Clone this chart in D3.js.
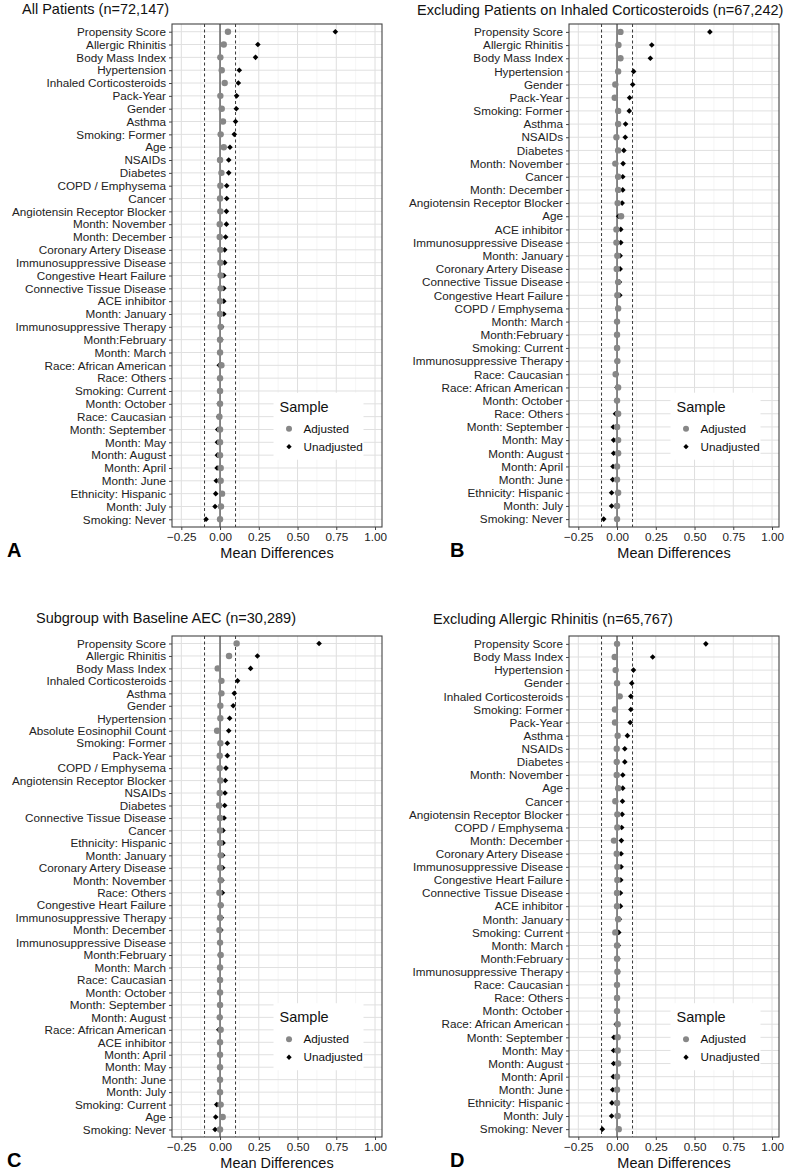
<!DOCTYPE html>
<html>
<head>
<meta charset="utf-8">
<script src="https://cdn.jsdelivr.net/npm/d3@7"></script>
<style>
  body { margin: 0; background: #fff; }
  svg text { font-family: "Liberation Sans", Arial, sans-serif; }
</style>
</head>
<body>
<script>
// panel A: all patients
const catsA = ["Propensity Score", "Allergic Rhinitis", "Body Mass Index", "Hypertension", "Inhaled Corticosteroids",
  "Pack-Year", "Gender", "Asthma", "Smoking: Former", "Age", "NSAIDs", "Diabetes", "COPD / Emphysema", "Cancer",
  "Angiotensin Receptor Blocker", "Month: November", "Month: December", "Coronary Artery Disease",
  "Immunosuppressive Disease", "Congestive Heart Failure", "Connective Tissue Disease", "ACE inhibitor",
  "Month: January", "Immunosuppressive Therapy", "Month:February", "Month: March", "Race: African American",
  "Race: Others", "Smoking: Current", "Month: October", "Race: Caucasian", "Month: September", "Month: May",
  "Month: August", "Month: April", "Month: June", "Ethnicity: Hispanic", "Month: July", "Smoking: Never"];
const adjA = [0.051, 0.024, 0.002, 0.011, 0.030, 0.002, 0.011, 0.019, 0.004, 0.024, 0.000, 0.009, 0.002, 0.000,
  0.002, -0.002, -0.002, 0.002, 0.002, 0.004, 0.004, 0.000, 0.000, 0.004, 0.000, 0.000, 0.009, 0.000, 0.000,
  0.000, -0.004, 0.000, 0.000, 0.000, 0.004, 0.004, 0.013, 0.006, 0.000];
const unadjA = [0.744, 0.244, 0.229, 0.124, 0.118, 0.107, 0.105, 0.100, 0.092, 0.064, 0.056, 0.056, 0.043, 0.043,
  0.041, 0.041, 0.036, 0.030, 0.030, 0.024, 0.024, 0.024, 0.024, 0.010, 0.005, 0.000, -0.005, 0.000, -0.003,
  -0.005, -0.008, -0.015, -0.017, -0.017, -0.019, -0.024, -0.028, -0.032, -0.090];

// panel B: excluding patients on inhaled corticosteroids
const catsB = ["Propensity Score", "Allergic Rhinitis", "Body Mass Index", "Hypertension", "Gender", "Pack-Year",
  "Smoking: Former", "Asthma", "NSAIDs", "Diabetes", "Month: November", "Cancer", "Month: December",
  "Angiotensin Receptor Blocker", "Age", "ACE inhibitor", "Immunosuppressive Disease", "Month: January",
  "Coronary Artery Disease", "Connective Tissue Disease", "Congestive Heart Failure", "COPD / Emphysema",
  "Month: March", "Month:February", "Smoking: Current", "Immunosuppressive Therapy", "Race: Caucasian",
  "Race: African American", "Month: October", "Race: Others", "Month: September", "Month: May", "Month: August",
  "Month: April", "Month: June", "Ethnicity: Hispanic", "Month: July", "Smoking: Never"];
const adjB = [0.022, 0.009, 0.022, 0.007, -0.011, -0.015, 0.007, 0.007, -0.004, 0.007, -0.011, 0.007, 0.007,
  0.004, 0.026, -0.004, -0.004, 0.002, -0.002, 0.007, 0.002, 0.007, 0.000, 0.000, 0.000, 0.002, -0.009, 0.007,
  0.000, 0.007, 0.000, 0.007, 0.007, 0.000, 0.000, 0.007, 0.000, 0.000];
const unadjB = [0.599, 0.224, 0.215, 0.107, 0.101, 0.081, 0.079, 0.055, 0.053, 0.044, 0.039, 0.037, 0.037,
  0.033, 0.010, 0.024, 0.024, 0.020, 0.020, 0.015, 0.018, 0.005, 0.000, 0.000, 0.000, 0.000, -0.005, 0.000,
  -0.003, -0.010, -0.024, -0.022, -0.022, -0.026, -0.028, -0.035, -0.035, -0.086];

// panel C: subgroup with baseline AEC
const catsC = ["Propensity Score", "Allergic Rhinitis", "Body Mass Index", "Inhaled Corticosteroids", "Asthma",
  "Gender", "Hypertension", "Absolute Eosinophil Count", "Smoking: Former", "Pack-Year", "COPD / Emphysema",
  "Angiotensin Receptor Blocker", "NSAIDs", "Diabetes", "Connective Tissue Disease", "Cancer",
  "Ethnicity: Hispanic", "Month: January", "Coronary Artery Disease", "Month: November", "Race: Others",
  "Congestive Heart Failure", "Immunosuppressive Therapy", "Month: December", "Immunosuppressive Disease",
  "Month:February", "Month: March", "Race: Caucasian", "Month: October", "Month: September", "Month: August",
  "Race: African American", "ACE inhibitor", "Month: April", "Month: May", "Month: June", "Month: July",
  "Smoking: Current", "Age", "Smoking: Never"];
const adjC = [0.107, 0.058, -0.015, 0.009, 0.009, 0.002, 0.002, -0.019, 0.002, -0.002, -0.002, 0.002, -0.002,
  -0.006, 0.000, 0.000, 0.000, 0.004, 0.000, 0.004, -0.004, 0.004, 0.000, -0.004, 0.000, 0.004, 0.000, 0.000,
  0.000, 0.000, -0.002, 0.004, 0.000, 0.000, 0.000, 0.000, 0.000, 0.004, 0.017, 0.000];
const unadjC = [0.639, 0.241, 0.197, 0.113, 0.092, 0.085, 0.062, 0.056, 0.047, 0.047, 0.038, 0.034, 0.032,
  0.030, 0.026, 0.019, 0.019, 0.017, 0.017, 0.012, 0.015, 0.008, 0.008, 0.005, 0.000, 0.000, 0.000, 0.000,
  0.000, 0.000, 0.000, -0.008, 0.000, 0.000, 0.000, 0.000, 0.000, -0.021, -0.028, -0.032];

// panel D: excluding allergic rhinitis
const catsD = ["Propensity Score", "Body Mass Index", "Hypertension", "Gender", "Inhaled Corticosteroids",
  "Smoking: Former", "Pack-Year", "Asthma", "NSAIDs", "Diabetes", "Month: November", "Age", "Cancer",
  "Angiotensin Receptor Blocker", "COPD / Emphysema", "Month: December", "Coronary Artery Disease",
  "Immunosuppressive Disease", "Congestive Heart Failure", "Connective Tissue Disease", "ACE inhibitor",
  "Month: January", "Smoking: Current", "Month: March", "Month:February", "Immunosuppressive Therapy",
  "Race: Caucasian", "Race: Others", "Month: October", "Race: African American", "Month: September",
  "Month: May", "Month: August", "Month: April", "Month: June", "Ethnicity: Hispanic", "Month: July",
  "Smoking: Never"];
const adjD = [0.000, -0.015, -0.009, 0.000, 0.017, -0.013, -0.013, 0.004, -0.002, -0.002, -0.002, 0.007, -0.011,
  0.002, 0.002, -0.020, -0.002, 0.002, 0.002, 0.000, 0.000, 0.007, -0.011, 0.000, 0.000, 0.002, 0.000, 0.000,
  0.000, 0.004, 0.004, 0.004, 0.007, 0.000, 0.000, 0.000, 0.004, 0.011];
const unadjD = [0.573, 0.230, 0.106, 0.095, 0.089, 0.089, 0.085, 0.067, 0.050, 0.050, 0.037, 0.037, 0.035,
  0.033, 0.030, 0.028, 0.026, 0.026, 0.024, 0.022, 0.022, 0.015, 0.011, 0.008, 0.005, 0.005, 0.000, 0.000,
  -0.003, -0.005, -0.020, -0.022, -0.022, -0.024, -0.028, -0.033, -0.035, -0.095];

const xTicks = [-0.25, 0, 0.25, 0.5, 0.75, 1];
const xMinor = [-0.125, 0.125, 0.375, 0.625, 0.875];
const refLines = [-0.1, 0.1];

const panels = [
  {title: "All Patients (n=72,147)", letter: "A", cats: catsA, adj: adjA, unadj: unadjA,
   x0: 172, x1: 382, y0: 24, y1: 527, tx: 22, ty: 14, lx: 7},
  {title: "Excluding Patients on Inhaled Corticosteroids (n=67,242)", letter: "B", cats: catsB, adj: adjB, unadj: unadjB,
   x0: 569, x1: 779, y0: 24, y1: 527, tx: 417, ty: 15, lx: 450},
  {title: "Subgroup with Baseline AEC (n=30,289)", letter: "C", cats: catsC, adj: adjC, unadj: unadjC,
   x0: 172, x1: 382, y0: 636, y1: 1137, tx: 36, ty: 623, lx: 7},
  {title: "Excluding Allergic Rhinitis (n=65,767)", letter: "D", cats: catsD, adj: adjD, unadj: unadjD,
   x0: 569, x1: 779, y0: 636, y1: 1137, tx: 433, ty: 624, lx: 450}
];

const svg = d3.select("body").append("svg")
  .attr("width", 790)
  .attr("height", 1174);

const diamond = d3.symbol().type(d3.symbolDiamond2).size(20);
const diamondKey = d3.symbol().type(d3.symbolDiamond2).size(18);

panels.forEach(p => {
  const g = svg.append("g");
  const x = d3.scaleLinear().domain([-0.31, 1.045]).range([p.x0, p.x1]);
  const y = d3.scalePoint().domain(p.cats).range([p.y0, p.y1]).padding(0.6);

  // grid
  g.selectAll(".minor").data(xMinor).enter().append("line")
    .attr("x1", d => x(d)).attr("x2", d => x(d))
    .attr("y1", p.y0).attr("y2", p.y1)
    .attr("stroke", "#eeeeee").attr("stroke-width", 0.6);
  g.selectAll(".major").data(xTicks).enter().append("line")
    .attr("x1", d => x(d)).attr("x2", d => x(d))
    .attr("y1", p.y0).attr("y2", p.y1)
    .attr("stroke", "#dedede").attr("stroke-width", 1);
  g.selectAll(".hgrid").data(p.cats).enter().append("line")
    .attr("x1", p.x0).attr("x2", p.x1)
    .attr("y1", d => y(d)).attr("y2", d => y(d))
    .attr("stroke", "#e0e0e0").attr("stroke-width", 1);

  // reference lines
  g.append("line")
    .attr("x1", x(0)).attr("x2", x(0)).attr("y1", p.y0).attr("y2", p.y1)
    .attr("stroke", "#6e6e6e").attr("stroke-width", 1.6);
  g.selectAll(".ref").data(refLines).enter().append("line")
    .attr("x1", d => x(d)).attr("x2", d => x(d))
    .attr("y1", p.y0).attr("y2", p.y1)
    .attr("stroke", "#222").attr("stroke-width", 0.9)
    .attr("stroke-dasharray", "3,2.5");

  // points: unadjusted under adjusted
  g.selectAll(".un").data(p.unadj).enter().append("path")
    .attr("d", diamond)
    .attr("transform", (d, i) => `translate(${x(d)},${y(p.cats[i])})`)
    .attr("fill", "#000");
  g.selectAll(".ad").data(p.adj).enter().append("circle")
    .attr("cx", d => x(d))
    .attr("cy", (d, i) => y(p.cats[i]))
    .attr("r", 3.2)
    .attr("fill", "#878787");

  // legend
  const lgX = x(0.345), lgY = p.y0 + (p.y1 - p.y0) * 0.733;
  const lg = g.append("g").attr("transform", `translate(${lgX},${lgY})`);
  lg.append("rect").attr("x", 0).attr("y", 0).attr("width", 90).attr("height", 67).attr("fill", "#fff");
  lg.append("text").attr("x", 6).attr("y", 19).attr("font-size", 14.5).attr("fill", "#111").text("Sample");
  lg.append("circle").attr("cx", 15.5).attr("cy", 36).attr("r", 3).attr("fill", "#878787");
  lg.append("path").attr("d", diamondKey).attr("transform", "translate(15.5,54)").attr("fill", "#000");
  lg.append("text").attr("x", 30).attr("y", 40).attr("font-size", 11.7).attr("fill", "#111").text("Adjusted");
  lg.append("text").attr("x", 30).attr("y", 58).attr("font-size", 11.7).attr("fill", "#111").text("Unadjusted");

  // border
  g.append("rect")
    .attr("x", p.x0).attr("y", p.y0)
    .attr("width", p.x1 - p.x0).attr("height", p.y1 - p.y0)
    .attr("fill", "none").attr("stroke", "#444").attr("stroke-width", 1.1);

  // axes
  const yAxis = g.append("g")
    .attr("transform", `translate(${p.x0},0)`)
    .call(d3.axisLeft(y).tickSize(3).tickPadding(3));
  const xAxis = g.append("g")
    .attr("transform", `translate(0,${p.y1})`)
    .call(d3.axisBottom(x).tickValues(xTicks).tickFormat(d3.format(".2f")).tickSize(3).tickPadding(3));
  [yAxis, xAxis].forEach(a => {
    a.select(".domain").remove();
    a.selectAll("line").attr("stroke", "#444");
    a.selectAll("text").attr("font-size", 11.7).attr("fill", "#222")
      .style("font-family", "'Liberation Sans', Arial, sans-serif");
  });

  g.append("text")
    .attr("x", (p.x0 + p.x1) / 2).attr("y", p.y1 + 31)
    .attr("text-anchor", "middle").attr("font-size", 14.5).attr("fill", "#111")
    .text("Mean Differences");

  g.append("text")
    .attr("x", p.tx).attr("y", p.ty)
    .attr("font-size", 14.5).attr("fill", "#111")
    .text(p.title);

  g.append("text")
    .attr("x", p.lx).attr("y", p.y1 + 30)
    .attr("font-size", 20).attr("font-weight", "bold").attr("fill", "#000")
    .text(p.letter);
});
</script>
</body>
</html>
